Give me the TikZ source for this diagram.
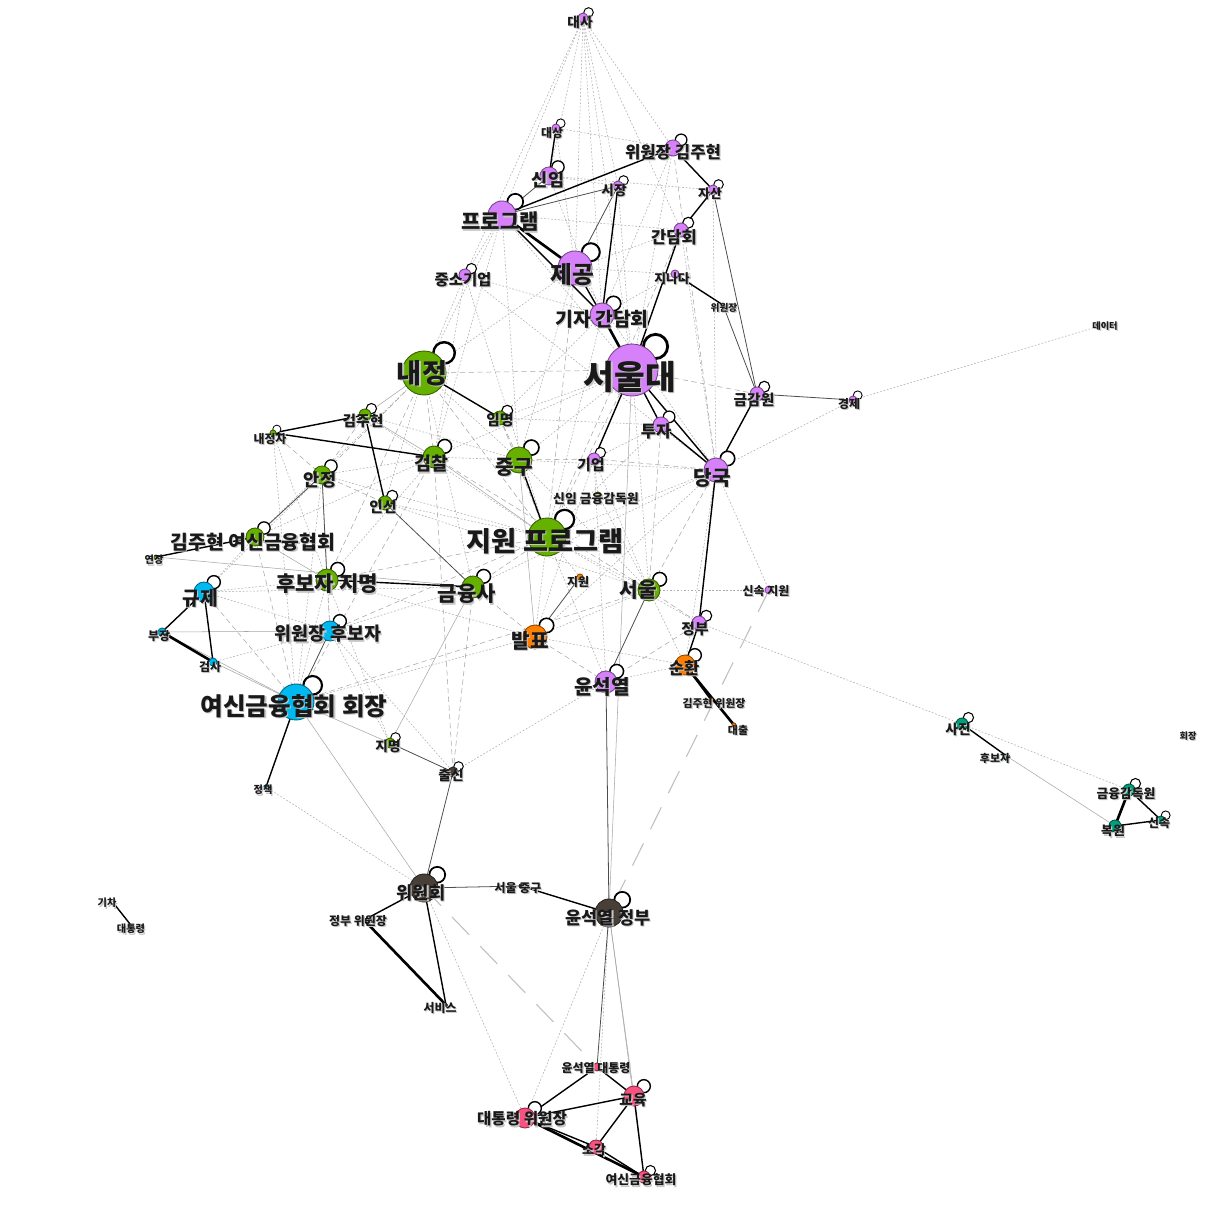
\documentclass[tikz,border=0pt]{standalone}
\usepackage{fontspec}
\setmainfont{Noto Sans CJK KR}
\usetikzlibrary{calc}

\definecolor{clpurple}{RGB}{214,128,250}
\definecolor{clgreen}{RGB}{102,176,0}
\definecolor{clcyan}{RGB}{0,185,240}
\definecolor{clorange}{RGB}{255,128,0}
\definecolor{cldark}{RGB}{72,64,56}
\definecolor{clpink}{RGB}{250,82,128}
\definecolor{clteal}{RGB}{0,160,125}

\tikzset{
  vtx/.style={circle, inner sep=0pt, fill=#1, draw=#1!55!black, line width=0.5pt},
  loopring/.style={circle, inner sep=0pt, draw=black, fill=white},
  lab/.style={font=\bfseries\fontsize{#1}{#1}\selectfont, inner sep=0pt, text=black!90},
  halo/.style={font=\bfseries\fontsize{#1}{#1}\selectfont, inner sep=0pt, text=gray!45},
  weak/.style={gray!65, line width=0.3pt, dash pattern=on 1pt off 1pt},
  dashy/.style={gray!70, line width=0.3pt, dash pattern=on 3pt off 2pt},
  faint/.style={gray!70, line width=0.3pt},
  thin/.style={black!70, line width=0.45pt},
  strong/.style={black, line width=0.8pt},
  heavy/.style={black, line width=1.5pt},
  longdash/.style={gray!50, line width=0.6pt, dash pattern=on 14pt off 9pt}
}

% name/x/y/radius/colour/self loop
\def\vlist{ds/583/18/5/clpurple/1, dsang/556/128/4/clpurple/1, wjk/673/148/8/clpurple/1,
  sinim/549/176/9/clpurple/1, sijang/618/186/5/clpurple/1, jasan/713/190/5/clpurple/1,
  prog/502/215/14/clpurple/1, gandam/681/230/7/clpurple/1, jegong/575/268/17/clpurple/1,
  jungso/465/275/6/clpurple/1, jinada/675/274/4/clpurple/0, wwj/723/305/2/clpurple/0,
  gija/602/315/12/clpurple/1, snu/632/370/26/clpurple/1, data/1103/325/1.5/clpurple/0,
  geumgam/757/394/7/clpurple/1, gyeongje/853/400/4/clpurple/1, tuja/661/425/8/clpurple/1,
  gieop/594/459/6/clpurple/1, danguk/716/470/12/clpurple/1, sinsokjw/769/590/4/clpurple/0,
  jeongbu/699/623/7/clpurple/1, yoon/606/682/11/clpurple/1,
  naejeong/424/373/22/clgreen/1, kjh/365/415/6/clgreen/1, immyeong/500/418/7/clgreen/1,
  naejeongja/273/433/3/clgreen/1, geomchal/434/457/11/clgreen/1, junggu/519/460/13/clgreen/1,
  anjeong/322/475/9/clgreen/1, inseon/385/503/7/clgreen/1, sinimfss/598/495/3/clgreen/0,
  jwprog/547/537/19/clgreen/1, kjhyeo/255/537/9/clgreen/1, yeonjang/156/557/2/clgreen/0,
  hubojm/327/580/11/clgreen/1, geumyungsa/473/587/11/clgreen/1, seoul/649/590/11/clgreen/1,
  jimyeong/390/743/5/clgreen/1,
  gyuje/204/592/10/clcyan/1, bujang/162/632/4/clcyan/0, wjhubo/330/631/10/clcyan/1,
  geomsa/213/662/4/clcyan/0, yhoejang/296/702/18/clcyan/1, jeongchaek/266/787/2/clcyan/0,
  jiwon/580/577/3/clorange/0, balpyo/535/637/12/clorange/1, sunhwan/685/665/10/clorange/1,
  kjhwj/711/700/2/clorange/0, daechul/734/725/2/clorange/0,
  chulsin/453/772/5/cldark/1, wiwonhoe/424/888/14/cldark/1, seoulgu/521/886/2/cldark/0,
  yoongov/609/913/14/cldark/1, govwj/364/920/2/cldark/0, service/446/1005/1.5/cldark/0,
  yoonpres/597/1067/4/clpink/0, gyoyuk/634/1096/10/clpink/1, preswj/525/1118/10/clpink/1,
  sogak/596/1147/7/clpink/0, yeoshin/644/1177/6/clpink/1,
  sajin/962/724/6/clteal/1, hubo/1008/757/2/clteal/0, fss/1129/790/6/clteal/1,
  bokwon/1115/826/6/clteal/0, sinsok/1161/820/4/clteal/1}

% name/x/y/size/text
\def\llist{ds/580/22/7.8/대사, dsang/552/133/6.8/대상, wjk/673/152/9.5/위원장 김주현,
  sinim/548/180/10/신임, sijang/614/190/7.8/시장, jasan/710/194/7.3/자산,
  prog/500/222/12/프로그램, gandam/674/237/9.4/간담회, jegong/572/275/13.5/제공,
  jungso/463/280/8.8/중소기업, jinada/672/279/7.3/지나다, wwj/724/308/5.5/위원장,
  gija/602/319/11/기자 간담회, snu/630/377/19/서울대, data/1105/326/5.2/데이터,
  geumgam/754/400/8.4/금감원, gyeongje/849/404/6.8/경제, tuja/656/431/9.4/투자,
  gieop/591/465/8.4/기업, danguk/712/478/11.5/당국, sinsokjw/766/591/6.8/신속 지원,
  jeongbu/695/629/8.4/정부, yoon/602/687/11.5/윤석열,
  naejeong/422/373/15.5/내정, kjh/363/421/8.4/김주현, immyeong/500/420/8.4/임명,
  naejeongja/270/439/6.8/내정자, geomchal/431/464/10.5/검찰, junggu/514/467/11.5/중구,
  anjeong/320/480/10/안정, inseon/383/507/8.4/인선, sinimfss/596/499/7.3/신임 금융감독원,
  jwprog/545/541/15.5/지원 프로그램, kjhyeo/253/542/11/김주현 여신금융협회,
  yeonjang/154/560/5.8/연장, hubojm/327/584/12/후보자 지명, geumyungsa/467/594/12/금융사,
  seoul/638/590/11.5/서울, jimyeong/388/746/7.8/지명,
  gyuje/200/598/11/규제, bujang/159/636/6.8/부장, wjhubo/328/634/10.5/위원장 후보자,
  geomsa/210/667/6.8/검사, yhoejang/294/706/14/여신금융협회 회장, jeongchaek/263/790/5.8/정책,
  jiwon/578/582/6.8/지원, balpyo/530/641/11.5/발표, sunhwan/684/668/9.4/순환,
  kjhwj/714/703/6.2/김주현 위원장, daechul/738/730/6.2/대출,
  chulsin/451/775/7.8/출신, wiwonhoe/421/893/10/위원회, seoulgu/518/888/6.8/서울 중구,
  yoongov/608/918/10/윤석열 정부, govwj/358/921/6.8/정부 위원장, service/440/1008/6.8/서비스,
  yoonpres/596/1068/6.8/윤석열 대통령, gyoyuk/633/1100/8.4/교육, preswj/522/1119/8.9/대통령 위원장,
  sogak/594/1150/7.3/소각, yeoshin/641/1180/7.3/여신금융협회,
  sajin/958/729/7.8/사진, hubo/995/758/6.2/후보자, fss/1126/794/7.3/금융감독원,
  bokwon/1113/831/7.3/복원, sinsok/1159/823/6.8/신속, hoejang/1188/736/5.2/회장,
  gicha/107/903/5.8/기차, daetong/131/929/5.8/대통령}

\begin{document}
\begin{tikzpicture}[x=0.02cm, y=-0.02cm]
  \useasboundingbox[fill=white] (0,0) rectangle (1230,1222);

  % vertex centres
  \foreach \nm/\px/\py/\r/\c/\lp in \vlist
    \coordinate (\nm) at (\px,\py);
  \coordinate (gicha) at (115,905);
  \coordinate (daetong) at (130,924);

  % weak co-occurrence edges
  \foreach \a/\b in {ds/sinim, ds/prog, ds/jegong, ds/snu, ds/gandam, ds/wjk, ds/sijang, ds/gija,
      ds/jungso, dsang/wjk, dsang/jegong, sinim/sijang, sinim/jasan, sinim/gija, prog/gandam,
      prog/snu, prog/jungso, jungso/gija, jungso/naejeong, jungso/geomchal, jegong/gandam,
      jegong/jinada, jegong/danguk, gija/jinada, gandam/danguk, wjk/gija, wjk/snu, jasan/danguk,
      sijang/snu, snu/junggu, snu/immyeong, snu/geomchal, naejeong/jegong, naejeong/prog,
      naejeong/geumyungsa, naejeong/inseon, naejeong/junggu, immyeong/tuja, geomchal/junggu,
      geomchal/anjeong, junggu/danguk, jwprog/danguk, jwprog/seoul, jwprog/balpyo,
      jwprog/anjeong, gieop/seoul, gieop/yoon, tuja/gieop, seoul/sunhwan, seoul/sinsokjw,
      danguk/sinsokjw, danguk/sunhwan, danguk/balpyo, danguk/geumyungsa, balpyo/hubojm,
      balpyo/sunhwan, geumyungsa/wjhubo, hubojm/yhoejang, hubojm/gyuje, kjhyeo/gyuje,
      kjhyeo/geomchal, gyuje/wjhubo, gyuje/geumyungsa, wjhubo/geomsa, wjhubo/jimyeong,
      yhoejang/anjeong, yhoejang/naejeongja, naejeongja/hubojm, kjh/junggu, inseon/jwprog,
      jeongbu/jwprog, yoon/chulsin, yoon/jwprog, danguk/gyeongje, gyeongje/data, jeongbu/sajin,
      sajin/fss, yoongov/sogak, yoongov/preswj, wiwonhoe/preswj, wiwonhoe/jeongchaek,
      sinimfss/seoul, gieop/sinimfss, jungso/danguk, yoon/sunhwan, jungso/jwprog, prog/geomchal,
      jegong/junggu, gija/jwprog, gija/immyeong, snu/seoul, tuja/jwprog, gieop/balpyo,
      naejeong/kjhyeo, geomchal/hubojm, junggu/seoul, inseon/seoul, kjh/jwprog,
      anjeong/wjhubo, hubojm/jimyeong, wjhubo/chulsin, yhoejang/balpyo, gyuje/anjeong,
      jiwon/jwprog, seoul/balpyo, prog/junggu}
    \draw[weak] (\a) -- (\b);
  \foreach \a/\b in {snu/naejeong, snu/jwprog, naejeong/jwprog, naejeong/anjeong,
      naejeong/geomchal, immyeong/junggu, junggu/gieop, jwprog/geumyungsa, jwprog/hubojm,
      gieop/danguk, seoul/danguk, seoul/jeongbu, balpyo/geumyungsa, balpyo/yoon,
      hubojm/wjhubo, gyuje/yhoejang, kjhyeo/yhoejang, naejeongja/anjeong, kjh/anjeong,
      anjeong/inseon, jeongbu/yoon, chulsin/geomchal, wjhubo/jwprog, yhoejang/seoul,
      geumgam/snu, danguk/wjk, gandam/jwprog, chulsin/geumyungsa, jegong/jwprog,
      tuja/seoul, naejeong/hubojm, immyeong/jwprog, geomchal/seoul, yhoejang/geomchal}
    \draw[dashy] (\a) -- (\b);
  \foreach \a/\b in {kjh/geomchal, geumyungsa/jimyeong, yhoejang/jimyeong, wiwonhoe/yhoejang,
      yoongov/snu, yoongov/gyoyuk, yoongov/yeoshin, hubo/bokwon, bujang/yhoejang,
      geomchal/jwprog, kjhyeo/hubojm, naejeong/kjh, yeonjang/geumyungsa, bujang/wjhubo,
      geomsa/yhoejang, junggu/balpyo}
    \draw[faint] (\a) -- (\b);
  \draw[longdash] (wiwonhoe) -- (yoonpres);
  \draw[longdash] (sinsokjw) -- (yoongov);

  % firmer edges
  \foreach \a/\b in {prog/sijang, yhoejang/wjhubo, jimyeong/chulsin, chulsin/wiwonhoe,
      wiwonhoe/seoulgu, yoongov/yoon, yoongov/yoonpres, geumgam/gyeongje, jiwon/balpyo,
      yoon/seoul, wwj/geumgam, jasan/geumgam, sinim/prog, kjhyeo/anjeong, anjeong/hubojm,
      inseon/geumyungsa, sijang/jegong}
    \draw[thin] (\a) -- (\b);
  \foreach \a/\b in {dsang/sinim, prog/wjk, sijang/gija, wjk/jasan, jasan/gandam, gandam/snu,
      jinada/wwj, prog/gija, snu/gieop, snu/tuja, snu/danguk, tuja/danguk, naejeong/immyeong,
      kjh/naejeongja, naejeongja/geomchal, kjh/inseon, junggu/jwprog, kjhyeo/yeonjang,
      hubojm/geumyungsa, gyuje/bujang, gyuje/geomsa, yhoejang/jeongchaek, sunhwan/kjhwj,
      jeongbu/sunhwan, danguk/jeongbu, danguk/geumgam, sajin/hubo, fss/sinsok, bokwon/sinsok,
      wiwonhoe/govwj, wiwonhoe/service, seoulgu/yoongov, yoonpres/preswj, yoonpres/gyoyuk,
      preswj/gyoyuk, preswj/sogak, gyoyuk/sogak, gyoyuk/yeoshin, sogak/yeoshin, gicha/daetong,
      jegong/gija}
    \draw[strong] (\a) -- (\b);
  \foreach \a/\b in {prog/jegong, gija/snu, bujang/geomsa, sunhwan/daechul, fss/bokwon,
      govwj/service, preswj/yeoshin}
    \draw[heavy] (\a) -- (\b);

  % self loops, then the vertices
  \foreach \nm/\px/\py/\r/\c/\lp in \vlist {
    \ifnum\lp=1
      \pgfmathsetmacro\lr{0.35*\r+3}
      \pgfmathsetmacro\ld{(\r+0.6*\lr)*0.7071}
      \pgfmathsetmacro\lw{0.3+0.05*\r}
      \node[loopring, minimum size=2*\lr*0.02cm, line width=\lw pt] (\nm-loop)
        at ($(\nm)+(\ld,-\ld)$) {};
    \fi
    \node[vtx=\c, minimum size=2*\r*0.02cm] (\nm-dot) at (\nm) {};
  }

  % labels, with a soft grey shadow behind
  \foreach \nm/\px/\py/\s/\t in \llist {
    \node[halo=\s] (\nm-shade) at ($(\px,\py)+(1.2,1.2)$) {\t};
    \node[lab=\s] (\nm-text) at (\px,\py) {\t};
  }

\end{tikzpicture}
\end{document}
